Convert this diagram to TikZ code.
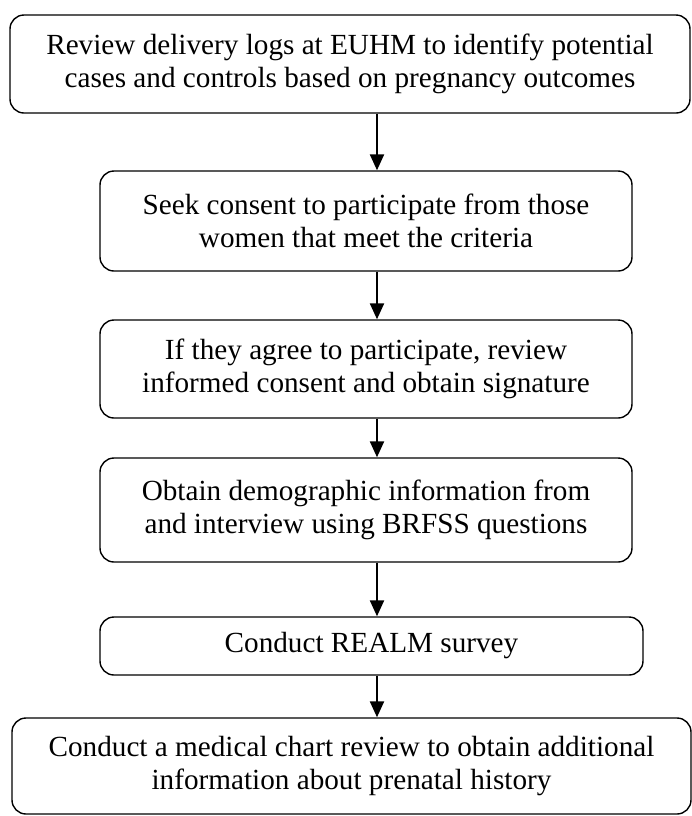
\documentclass[tikz,border=0pt]{standalone}
\usepackage{fontspec}
\setmainfont{Liberation Serif}
\usetikzlibrary{arrows.meta}

\begin{document}
\begin{tikzpicture}[x=0.5pt,y=-0.5pt,
		stage/.style = {draw, rounded corners=7pt, line width=0.7pt, align=center, inner sep=0pt,
			font=\fontsize{14.6}{16.8}\selectfont},
		flow/.style = {-{Triangle[length=8pt,width=7pt]}, line width=1.1pt}]
				\useasboundingbox (0,0) rectangle (692,816);
				\begin{scope}[every node/.style={stage}]
					\node[minimum width=340pt, minimum height=49pt] (S1) at (350,64) {Review delivery logs at EUHM to identify potential\\cases and controls based on pregnancy outcomes};
					\node[minimum width=266pt, minimum height=50pt] (S2) at (366,221) {Seek consent to participate from those\\women that meet the criteria};
					\node[minimum width=266pt, minimum height=49pt] (S3) at (366,369) {If they agree to participate, review\\informed consent and obtain signature};
					\node[minimum width=266pt, minimum height=52pt] (S4) at (366,510) {Obtain demographic information from\\and interview using BRFSS questions};
					\node[minimum width=271.5pt, minimum height=29pt] (S5) at (371.5,646) {Conduct REALM survey};
					\node[minimum width=339.5pt, minimum height=48pt] (S6) at (351.5,766) {Conduct a medical chart review to obtain additional\\information about prenatal history};
				\end{scope}
				\coordinate (axis) at (377,0);
				\draw [flow] (S1.south -| axis) -- (S2.north -| axis);
				\draw [flow] (S2.south -| axis) -- (S3.north -| axis);
				\draw [flow] (S3.south -| axis) -- (S4.north -| axis);
				\draw [flow] (S4.south -| axis) -- (S5.north -| axis);
				\draw [flow] (S5.south -| axis) -- (S6.north -| axis);
			\end{tikzpicture}
\end{document}
